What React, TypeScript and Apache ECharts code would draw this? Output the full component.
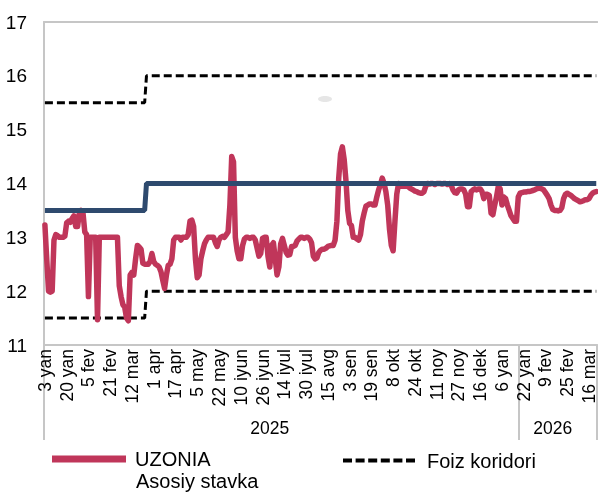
import React, { useEffect, useRef } from "react";
import * as echarts from "echarts";

// Tick labels on the date axis (one every 12 trading days)
const tickLabels = [
  "3 yan", "20 yan", "5 fev", "21 fev", "12 mar", "1 apr", "17 apr", "5 may", "22 may",
  "10 iyun", "26 iyun", "14 iyul", "30 iyul", "15 avg", "3 sen", "19 sen", "8 okt",
  "24 okt", "11 noy", "27 noy", "16 dek", "6 yan", "22 yan", "9 fev", "25 fev", "16 mar",
];
const labelEvery = 12;

// UZONIA daily values (%)
const uzonia = [
  13.23, 12.6, 12.0, 11.98, 12.0, 12.95, 13.05, 13.03, 13.0, 13.0,
  13.0, 13.02, 13.27, 13.3, 13.28, 13.35, 13.4, 13.2, 13.2, 13.45,
  13.5, 13.45, 13.1, 13.05, 11.9, 13.0, 13.0, 13.0, 13.0, 11.47,
  13.0, 13.0, 13.0, 13.0, 13.0, 13.0, 13.0, 13.0, 13.0, 13.0,
  13.0, 12.1, 11.9, 11.75, 11.7, 11.5, 11.45, 12.3, 12.35, 12.3,
  12.6, 12.85, 12.82, 12.78, 12.52, 12.5, 12.5, 12.5, 12.55, 12.7,
  12.55, 12.5, 12.48, 12.45, 12.36, 12.2, 12.05, 12.3, 12.48, 12.5,
  12.6, 12.95, 13.0, 13.0, 13.0, 12.95, 13.0, 13.0, 13.0, 13.05,
  13.3, 13.32, 13.2, 12.6, 12.25, 12.3, 12.6, 12.75, 12.88, 12.95,
  13.0, 13.0, 13.0, 13.0, 12.9, 12.83, 12.95, 13.0, 13.02, 13.0,
  13.05, 13.1, 13.6, 14.5, 14.4, 13.0, 12.75, 12.6, 12.6, 12.85,
  12.97, 13.0, 13.0, 12.98, 13.0, 13.0, 12.95, 12.8, 12.65, 12.7,
  12.98, 13.0, 13.0, 12.65, 12.45, 12.85, 12.9, 12.6, 12.3, 12.45,
  12.88, 12.98, 12.85, 12.72, 12.67, 12.68, 12.83, 12.83, 12.85, 12.93,
  12.97, 13.0, 13.0, 12.98, 13.0, 13.0, 12.97, 12.9, 12.65, 12.6,
  12.62, 12.72, 12.76, 12.78, 12.78, 12.8, 12.83, 12.84, 12.85, 12.85,
  12.95, 13.3, 14.1, 14.55, 14.68, 14.45, 14.05, 13.5, 13.26, 13.22,
  13.0, 13.0, 12.97, 12.95, 13.05, 13.3, 13.45, 13.58, 13.6, 13.62,
  13.62, 13.6, 13.6, 13.75, 13.88, 13.98, 14.1, 14.0, 13.85, 13.6,
  13.15, 12.85, 12.75, 13.3, 13.8, 14.0, 13.95, 13.95, 13.95, 13.95,
  13.95, 13.92, 13.9, 13.88, 13.86, 13.85, 13.83, 13.82, 13.82, 13.85,
  13.95, 14.0, 13.99, 14.0, 14.0, 13.98, 14.0, 14.0, 14.0, 13.99,
  14.0, 14.0, 13.98, 14.0, 13.97, 13.88, 13.83, 13.82, 13.88, 13.9,
  13.9, 13.88, 13.8, 13.57, 13.57, 13.85, 13.88, 13.9, 13.88, 13.9,
  13.9, 13.85, 13.72, 13.8, 13.8, 13.78, 13.45, 13.42, 13.6, 13.75,
  13.95, 13.9, 13.6, 13.75, 13.72, 13.6, 13.5, 13.4, 13.35, 13.3,
  13.3, 13.75, 13.82, 13.83, 13.84, 13.84, 13.85, 13.85, 13.86, 13.87,
  13.88, 13.9, 13.91, 13.91, 13.9, 13.88, 13.83, 13.78, 13.72, 13.6,
  13.52, 13.5, 13.5, 13.49, 13.5, 13.55, 13.72, 13.8, 13.82, 13.8,
  13.78, 13.75, 13.72, 13.7, 13.68, 13.66, 13.67, 13.68, 13.7, 13.7,
  13.72, 13.78, 13.82, 13.84, 13.85,
];

// Policy rate regime: index of the first day of each regime and its levels
const rateChangeIdx = [0, 56];
const keyRate = [13.5, 14];
const corridorLow = [11.5, 12];
const corridorHigh = [15.5, 16];

// Year groups on the lower axis level
const yearLabels = ["2025", "2026"];
const yearStartIdx = [0, 262];
const yearLabelIdx = [124, 280];

const N = uzonia.length;
const categories = uzonia.map((_, i) => String(i));

function stepData(levels: number[]) {
  const out: [number, number][] = [];
  levels.forEach((v, k) => {
    const start = rateChangeIdx[k];
    const end = k + 1 < rateChangeIdx.length ? rateChangeIdx[k + 1] - 1 : N - 1;
    out.push([start, v]);
    out.push([end, v]);
  });
  return out;
}

const FONT = "Liberation Sans, Arial, sans-serif";
const GRAY = "#c6c6c6";
const RED = "#c0365a";
const BLUE = "#2e4a6e";
const DASH_ICON =
  "path://M0 0h9v4h-9z M12.6 0h9v4h-9z M25.2 0h9v4h-9z M37.8 0h9v4h-9z M50.4 0h9v4h-9z M63 0h9v4h-9z";

export default function App() {
  const ref = useRef<HTMLDivElement>(null);
  useEffect(() => {
    if (!ref.current) return;
    const chart = echarts.init(ref.current, undefined, { renderer: "svg" });
    const legendText = { fontSize: 20, color: "#000", fontFamily: FONT };
    chart.setOption({
      animation: false,
      textStyle: { fontFamily: FONT, color: "#000" },
      grid: { left: 44, right: -2, top: 22, bottom: 147, containLabel: false },
      xAxis: [
        {
          type: "category",
          data: categories,
          boundaryGap: true,
          position: "bottom",
          axisLine: { show: true, lineStyle: { color: GRAY, width: 2 } },
          axisTick: { show: false },
          splitLine: { show: false },
          axisLabel: {
            rotate: 90,
            interval: labelEvery - 1,
            margin: 4,
            fontSize: 17.5,
            color: "#000",
            fontFamily: FONT,
            formatter: (_v: string, i: number) => tickLabels[i / labelEvery] ?? "",
          },
        },
        {
          type: "category",
          data: categories,
          boundaryGap: true,
          position: "bottom",
          offset: 95,
          axisLine: { show: false },
          axisTick: {
            show: true,
            inside: true,
            length: 95,
            interval: (i: number) => yearStartIdx.includes(i),
            lineStyle: { color: GRAY, width: 2 },
          },
          splitLine: { show: false },
          axisLabel: {
            show: true,
            inside: true,
            margin: 3,
            fontSize: 17.5,
            color: "#000",
            fontFamily: FONT,
            interval: (i: number) => yearLabelIdx.includes(i),
            formatter: (_v: string, i: number) => {
              let k = 0;
              yearStartIdx.forEach((s, j) => { if (i >= s) k = j; });
              return yearLabels[k];
            },
          },
        },
        {
          type: "category",
          data: categories,
          position: "top",
          axisLine: { show: true, lineStyle: { color: GRAY, width: 2 } },
          axisTick: { show: false },
          axisLabel: { show: false },
          splitLine: { show: false },
        },
      ],
      yAxis: {
        type: "value",
        min: 11,
        max: 17,
        interval: 1,
        axisLine: { show: true, lineStyle: { color: GRAY, width: 2 } },
        axisTick: { show: false },
        splitLine: { show: false },
        axisLabel: { fontSize: 19, color: "#000", margin: 17, fontFamily: FONT },
      },
      legend: [
        {
          left: 52,
          top: 449,
          padding: 0,
          itemWidth: 74,
          itemHeight: 7,
          itemGap: 0,
          selectedMode: false,
          textStyle: { ...legendText, padding: [0, 0, 0, 4] },
          data: [{ name: "UZONIA", icon: "rect", itemStyle: { color: RED } }],
        },
        {
          left: 343,
          top: 450.5,
          padding: 0,
          itemWidth: 72,
          itemHeight: 4,
          itemGap: 0,
          selectedMode: false,
          textStyle: { ...legendText, padding: [0, 0, 0, 7] },
          data: [{ name: "Foiz koridori", icon: DASH_ICON, itemStyle: { color: "#000" } }],
        },
        {
          left: 131,
          top: 471,
          padding: 0,
          itemWidth: 0,
          itemHeight: 14,
          selectedMode: false,
          textStyle: legendText,
          data: [{ name: "Asosiy stavka", icon: "none" }],
        },
      ],
      graphic: [
        { type: "ellipse", shape: { cx: 325, cy: 99, rx: 7, ry: 3 }, style: { fill: "#e6e6e6" }, silent: true },
      ],
      series: [
        {
          name: "UZONIA",
          type: "line",
          data: uzonia,
          showSymbol: false,
          symbol: "none",
          lineStyle: { color: RED, width: 5.5, join: "round", cap: "round" },
          itemStyle: { color: RED },
          z: 3,
        },
        {
          name: "Foiz koridori",
          type: "line",
          data: stepData(corridorHigh),
          symbol: "none",
          lineStyle: { color: "#000", width: 3, type: [8, 4] },
          itemStyle: { color: "#000" },
          z: 2,
        },
        {
          name: "Foiz koridori",
          type: "line",
          data: stepData(corridorLow),
          symbol: "none",
          lineStyle: { color: "#000", width: 3, type: [8, 4] },
          itemStyle: { color: "#000" },
          z: 2,
        },
        {
          name: "Asosiy stavka",
          type: "line",
          data: stepData(keyRate),
          symbol: "none",
          lineStyle: { color: BLUE, width: 5 },
          itemStyle: { color: BLUE },
          z: 4,
        },
      ],
    });
    return () => chart.dispose();
  }, []);
  return <div ref={ref} style={{ position: "fixed", left: 0, top: 0, width: 598, height: 492 }} />;
}
